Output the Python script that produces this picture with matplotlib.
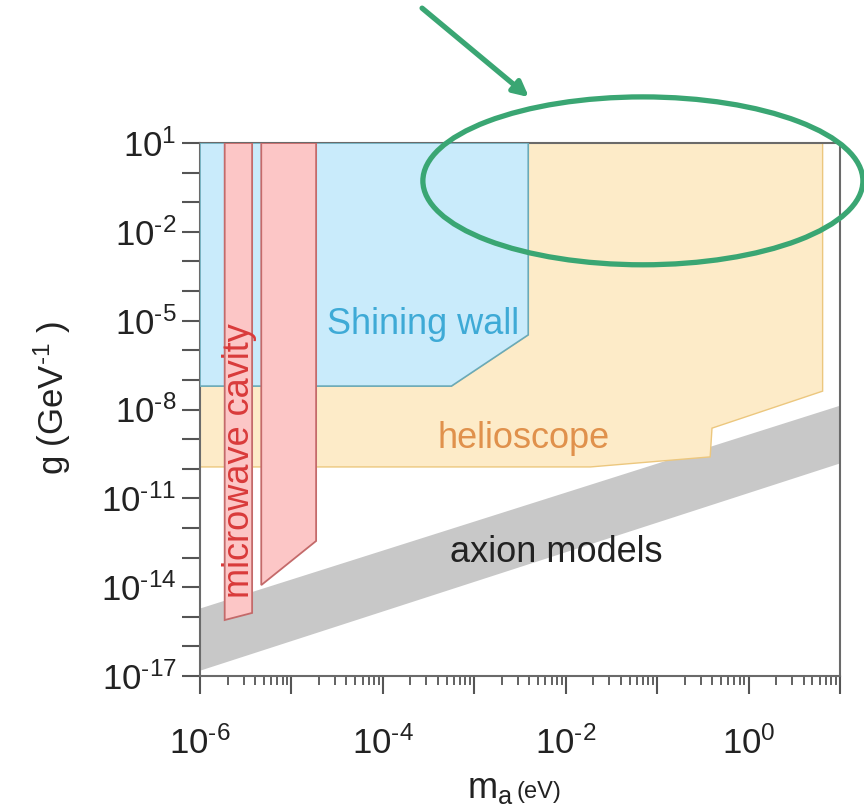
import matplotlib
matplotlib.use("Agg")
import matplotlib.pyplot as plt
from matplotlib.patches import Polygon, Ellipse
import matplotlib.ticker as mticker
import numpy as np

plt.rcParams['font.family'] = ['Liberation Sans', 'DejaVu Sans']
plt.rcParams['mathtext.fontset'] = 'custom'
plt.rcParams['mathtext.rm'] = 'Liberation Sans'
plt.rcParams['mathtext.it'] = 'Liberation Sans:italic'
plt.rcParams['mathtext.bf'] = 'Liberation Sans:bold'

# ---------------- data (log10 values) ----------------
# Shining wall excluded region: (log10 m_a, log10 g)
shining_logm = [-6.0, -6.0, -3.25, -2.41, -2.41]
shining_logg = [1.0, -7.21, -7.21, -5.48, 1.0]

# Helioscope excluded region
helio_logm = [-6.0, -6.0, -1.73, -0.42, -0.40, 0.81, 0.81, -2.41, -2.41, -3.25]
helio_logg = [-7.21, -9.94, -9.94, -9.60, -8.63, -7.38, 1.0, 1.0, -5.48, -7.21]

# Microwave cavity strips
cavity1_logm = [-5.73, -5.73, -5.43, -5.43]
cavity1_logg = [1.0, -15.11, -14.87, 1.0]
cavity2_logm = [-5.33, -5.33, -4.73, -4.73]
cavity2_logg = [1.0, -13.93, -12.44, 1.0]

# Axion models band (upper and lower edges)
band_logm = [-6.0, 1.0]
band_upper_logg = [-14.7, -7.85]
band_lower_logg = [-16.8, -9.8]

# Tick labels
xtick_exps = [-6, -5, -4, -3, -2, -1, 0, 1]
xtick_labels = ["-6", "", "-4", "", "-2", "", "0", ""]
ytick_exps = [1, -2, -5, -8, -11, -14, -17]
ytick_labels = ["1", "-2", "-5", "-8", "-11", "-14", "-17"]

# Region labels: (text, log10 m, log10 g)
lbl_shining = ("Shining wall", -3.56, -5.45)
lbl_helio = ("helioscope", -2.46, -9.30)
lbl_axion = ("axion models", -2.10, -13.15)
lbl_cavity = ("microwave cavity", -5.46, -9.71)

# ---------------- colours ----------------
c_blue = "#c9ebfb"
c_blue_edge = "#6aaab8"
c_yellow = "#fdebc8"
c_yellow_edge = "#ecc77e"
c_pink = "#fcc6c6"
c_pink_edge = "#c46a6a"
c_gray = "#c8c8c8"
c_green = "#3aa673"


def sup_label(s):
    if s == "":
        return ""
    s = s.replace("-", r"\text{-}")
    return r"$\mathregular{10^{%s}}$" % s


fig = plt.figure(figsize=(8.64, 8.06), dpi=100)
ax = fig.add_axes([200/864, 1-676/806, 640/864, 533/806])
ax.set_xscale('log')
ax.set_yscale('log')
ax.set_xlim(1e-6, 1e1)
ax.set_ylim(1e-17, 1e1)


def pts(lm, lg):
    return np.column_stack([10.0**np.array(lm), 10.0**np.array(lg)])


# axion band
bm = 10.0**np.array(band_logm)
ax.fill_between(bm, 10.0**np.array(band_lower_logg), 10.0**np.array(band_upper_logg),
                color=c_gray, lw=0, zorder=1)
# helioscope
ax.add_patch(Polygon(pts(helio_logm, helio_logg), closed=True,
                     facecolor=c_yellow, edgecolor=c_yellow_edge, lw=1.0, zorder=2))
# shining wall
ax.add_patch(Polygon(pts(shining_logm, shining_logg), closed=True,
                     facecolor=c_blue, edgecolor=c_blue_edge, lw=1.2, zorder=3))
# cavity strips
for lm, lg in [(cavity1_logm, cavity1_logg), (cavity2_logm, cavity2_logg)]:
    ax.add_patch(Polygon(pts(lm, lg), closed=True, facecolor=c_pink,
                         edgecolor=c_pink_edge, lw=1.3, zorder=4))

fs = 26
ax.text(10**lbl_shining[1], 10**lbl_shining[2], lbl_shining[0], color="#3eaad6",
        fontsize=fs, ha='center', va='baseline', zorder=6)
ax.text(10**lbl_helio[1], 10**lbl_helio[2], lbl_helio[0], color="#e0914c",
        fontsize=fs, ha='center', va='baseline', zorder=6)
ax.text(10**lbl_axion[1], 10**lbl_axion[2], lbl_axion[0], color="#222222",
        fontsize=fs, ha='center', va='baseline', zorder=6)
ax.text(10**lbl_cavity[1], 10**lbl_cavity[2], lbl_cavity[0], color="#d93a3a",
        fontsize=fs, ha='center', va='baseline', rotation=90,
        rotation_mode='anchor', zorder=6)

# ticks
ax.xaxis.set_major_locator(mticker.FixedLocator([10.0**e for e in xtick_exps]))
ax.xaxis.set_major_formatter(mticker.FixedFormatter([sup_label(s) for s in xtick_labels]))
ax.xaxis.set_minor_locator(mticker.LogLocator(base=10, subs=np.arange(2, 10), numticks=30))
ax.xaxis.set_minor_formatter(mticker.NullFormatter())

ax.yaxis.set_major_locator(mticker.FixedLocator([10.0**e for e in ytick_exps]))
ax.yaxis.set_major_formatter(mticker.FixedFormatter([sup_label(s) for s in ytick_labels]))
ax.yaxis.set_minor_locator(mticker.FixedLocator([10.0**e for e in range(-17, 2)
                                                 if e not in ytick_exps]))
ax.yaxis.set_minor_formatter(mticker.NullFormatter())

ax.tick_params(axis='both', which='major', direction='out', length=13, width=1.5,
               color="#555555", labelsize=25, labelcolor="#222222")
ax.tick_params(axis='y', which='both', direction='out', length=13, width=1.5,
               color="#555555", right=False)
ax.tick_params(axis='y', which='major', pad=4)
ax.tick_params(axis='x', which='minor', direction='out', length=6.5, width=1.3,
               color="#555555", top=False)
ax.tick_params(axis='x', which='major', pad=23)

for s in ax.spines.values():
    s.set_color("#6a6a6a")
    s.set_linewidth(1.5)

# axis labels
fig.text(52/864, 1-398/806, r"g (GeV$^{\mathregular{\text{-}1}}$ )", rotation=90,
         fontsize=25, ha='center', va='center', color="#222222")
ax.text(0.49, -0.228, r"m$_{\mathregular{a}}$", transform=ax.transAxes,
        fontsize=26, ha='right', va='baseline', color="#222222")
ax.text(0.495, -0.228, "(eV)", transform=ax.transAxes,
        fontsize=17, ha='left', va='baseline', color="#222222")

# annotation ellipse and arrow
ax.add_patch(Ellipse((0.692, 0.929), 0.6875, 0.315, transform=ax.transAxes,
                     fill=False, edgecolor=c_green, lw=3.8, clip_on=False, zorder=10))
ax.annotate("", xy=(0.514, 1.086), xytext=(0.347, 1.253),
            xycoords='axes fraction', textcoords='axes fraction',
            arrowprops=dict(arrowstyle='-|>,head_length=0.9,head_width=0.45',
                            color=c_green, lw=3.8, shrinkA=0, shrinkB=0),
            annotation_clip=False, zorder=10)

fig.savefig("out.png", dpi=100)
